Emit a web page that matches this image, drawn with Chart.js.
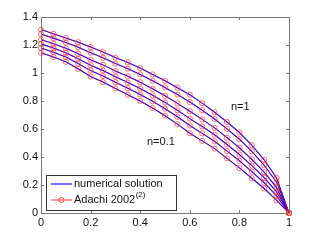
<!DOCTYPE html>
<html lang="en">
<head>
<meta charset="UTF-8" />
<title>Numerical solution vs Adachi 2002</title>
<script src="https://cdn.jsdelivr.net/npm/chart.js"></script>
<style>
  html, body { margin: 0; padding: 0; background: #fff; }
  canvas { display: block; }
</style>
</head>
<body>
<canvas id="profileChart" width="318" height="240"></canvas>
<script>
// x positions of the data points
const xVals = [0, 0.05, 0.1, 0.15, 0.2, 0.25, 0.3, 0.35, 0.4, 0.45, 0.5,
               0.55, 0.6, 0.65, 0.7, 0.75, 0.8, 0.85, 0.9, 0.95, 1];

// six profiles, top (n=1) to bottom (n=0.1)
const curve1 = [1.310, 1.280, 1.250, 1.220, 1.185, 1.150, 1.110, 1.075, 1.035, 0.990, 0.945,
                0.895, 0.845, 0.785, 0.720, 0.650, 0.575, 0.485, 0.380, 0.250, 0];
const curve2 = [1.279, 1.249, 1.218, 1.184, 1.145, 1.109, 1.068, 1.031, 0.990, 0.944, 0.897,
                0.846, 0.793, 0.734, 0.671, 0.601, 0.527, 0.440, 0.341, 0.220, 0];
const curve3 = [1.239, 1.209, 1.177, 1.138, 1.095, 1.058, 1.015, 0.976, 0.934, 0.887, 0.837,
                0.783, 0.727, 0.669, 0.608, 0.538, 0.466, 0.383, 0.292, 0.181, 0];
const curve4 = [1.208, 1.178, 1.145, 1.102, 1.055, 1.017, 0.974, 0.932, 0.889, 0.841, 0.790,
                0.734, 0.674, 0.618, 0.559, 0.489, 0.418, 0.338, 0.253, 0.151, 0];
const curve5 = [1.178, 1.148, 1.114, 1.068, 1.017, 0.978, 0.934, 0.891, 0.847, 0.798, 0.745,
                0.687, 0.625, 0.569, 0.512, 0.442, 0.373, 0.295, 0.216, 0.122, 0];
const curve6 = [1.145, 1.115, 1.080, 1.030, 0.975, 0.935, 0.890, 0.845, 0.800, 0.750, 0.695,
                0.635, 0.570, 0.515, 0.460, 0.390, 0.322, 0.248, 0.175, 0.090, 0];

const curves = [curve1, curve2, curve3, curve4, curve5, curve6];

const xTicks = [0, 0.2, 0.4, 0.6, 0.8, 1];
const yTicks = [0, 0.2, 0.4, 0.6, 0.8, 1, 1.2, 1.4];

const FONT = "Arial, 'Liberation Sans', Helvetica, sans-serif";

function toPoints(ys) {
    return xVals.map((x, i) => ({ x: x, y: ys[i] }));
}

const datasets = [];
curves.forEach(ys => {
    datasets.push({
        label: "numerical solution",
        data: toPoints(ys),
        borderColor: "#0000ff",
        borderWidth: 1.1,
        pointRadius: 0,
        fill: false,
        clip: false,
        order: 2
    });
    datasets.push({
        label: "Adachi 2002",
        data: toPoints(ys),
        borderColor: "rgba(255,0,0,0.35)",
        borderWidth: 1,
        pointRadius: 2.6,
        pointBorderWidth: 1,
        pointBorderColor: "rgba(255,50,50,0.7)",
        pointBackgroundColor: "rgba(255,255,255,0)",
        fill: false,
        clip: false,
        order: 1
    });
});

// box, inward ticks, legend and the n labels
const matlabFrame = {
    id: "matlabFrame",
    afterDatasetsDraw(chart) {
        const { ctx, chartArea: a, scales: { x, y } } = chart;
        ctx.save();

        ctx.strokeStyle = "#777";
        ctx.lineWidth = 1;
        ctx.strokeRect(a.left + 0.5, a.top + 0.5, a.right - a.left, a.bottom - a.top);

        ctx.beginPath();
        xTicks.forEach(v => {
            const px = Math.round(x.getPixelForValue(v)) + 0.5;
            ctx.moveTo(px, a.bottom); ctx.lineTo(px, a.bottom - 3);
            ctx.moveTo(px, a.top); ctx.lineTo(px, a.top + 3);
        });
        yTicks.forEach(v => {
            const py = Math.round(y.getPixelForValue(v)) + 0.5;
            ctx.moveTo(a.left, py); ctx.lineTo(a.left + 3, py);
            ctx.moveTo(a.right, py); ctx.lineTo(a.right - 3, py);
        });
        ctx.stroke();

        // legend
        const lx = 46, ly = 175, lw = 130, lh = 35;
        ctx.fillStyle = "#fff";
        ctx.fillRect(lx, ly, lw, lh);
        ctx.strokeStyle = "#333";
        ctx.strokeRect(lx + 0.5, ly + 0.5, lw, lh);

        ctx.lineWidth = 1.1;
        ctx.strokeStyle = "#0000ff";
        ctx.beginPath(); ctx.moveTo(51, 184); ctx.lineTo(72, 184); ctx.stroke();

        ctx.lineWidth = 2;
        ctx.strokeStyle = "rgba(255,0,0,0.4)";
        ctx.beginPath(); ctx.moveTo(51, 200); ctx.lineTo(72, 200); ctx.stroke();
        ctx.lineWidth = 1;
        ctx.strokeStyle = "rgba(255,40,40,0.85)";
        ctx.beginPath(); ctx.arc(61.5, 200, 2.5, 0, Math.PI * 2); ctx.stroke();

        ctx.fillStyle = "#111";
        ctx.textBaseline = "middle";
        ctx.textAlign = "left";
        ctx.font = "11px " + FONT;
        ctx.fillText("numerical solution", 74, 184);
        ctx.fillText("Adachi 2002", 74, 200);
        const w = ctx.measureText("Adachi 2002").width;
        ctx.font = "8px " + FONT;
        ctx.fillText("(2)", 74 + w + 0.5, 195);

        ctx.font = "11px " + FONT;
        ctx.fillText("n=1", 231, 107);
        ctx.fillText("n=0.1", 147, 142);

        ctx.restore();
    }
};

const tickFont = { family: FONT, size: 11 };

new Chart(document.getElementById("profileChart").getContext("2d"), {
    type: "line",
    data: { datasets: datasets },
    options: {
        responsive: false,
        animation: false,
        layout: { padding: { left: 0, top: 17, right: 29, bottom: 0 } },
        plugins: {
            legend: { display: false },
            tooltip: { enabled: false }
        },
        scales: {
            x: {
                type: "linear",
                min: 0,
                max: 1,
                grid: { display: false, drawTicks: false },
                border: { display: false },
                afterBuildTicks: s => { s.ticks = xTicks.map(v => ({ value: v })); },
                afterFit: s => { s.height = 27; },
                ticks: {
                    font: tickFont,
                    color: "#111",
                    padding: 3,
                    maxRotation: 0,
                    callback: v => String(Number(v.toFixed(1)))
                }
            },
            y: {
                type: "linear",
                min: 0,
                max: 1.4,
                grid: { display: false, drawTicks: false },
                border: { display: false },
                afterBuildTicks: s => { s.ticks = yTicks.map(v => ({ value: v })); },
                afterFit: s => { s.width = 41; },
                ticks: {
                    font: tickFont,
                    color: "#111",
                    padding: 3,
                    callback: v => String(Number(v.toFixed(1)))
                }
            }
        }
    },
    plugins: [matlabFrame]
});
</script>
</body>
</html>
